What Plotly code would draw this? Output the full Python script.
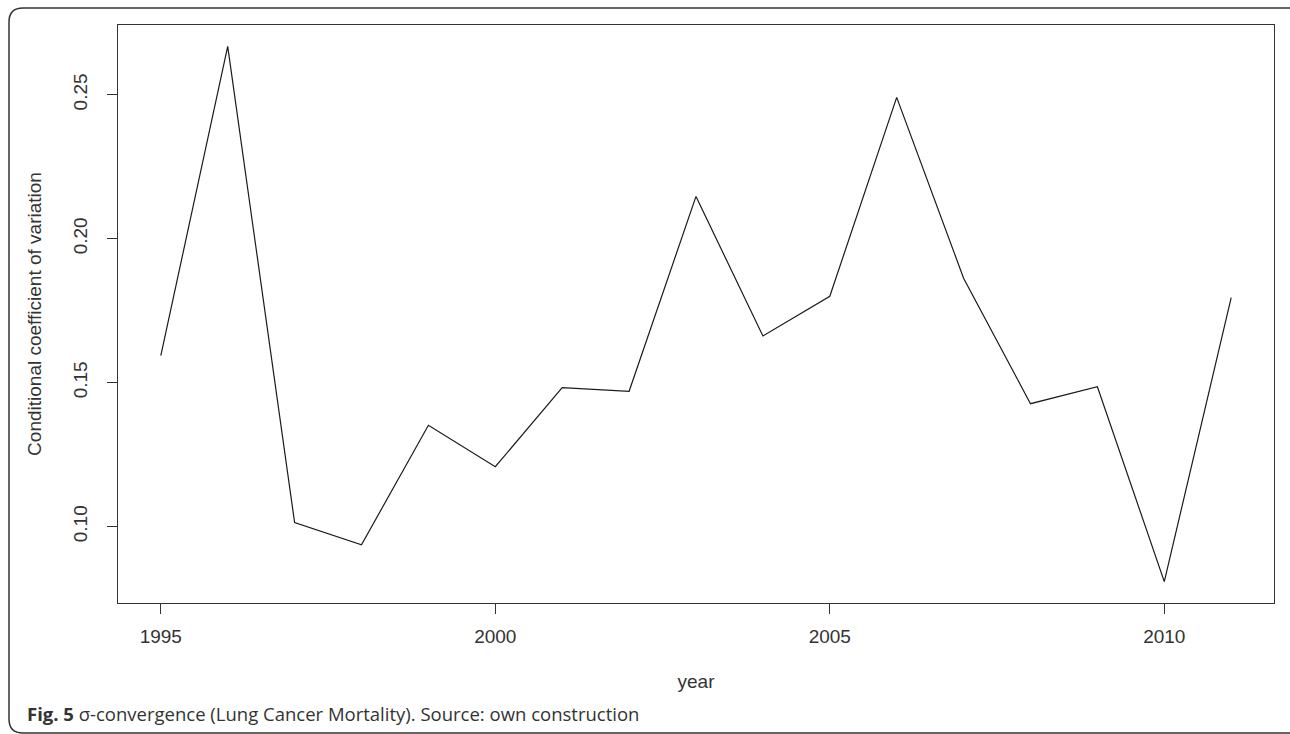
import plotly.graph_objects as go

years = [1995, 1996, 1997, 1998, 1999, 2000, 2001, 2002, 2003, 2004, 2005, 2006, 2007, 2008, 2009, 2010, 2011]
ccv = [0.1594, 0.2668, 0.1014, 0.0937, 0.1352, 0.1208, 0.1483, 0.1470, 0.2147, 0.1662, 0.1800, 0.2491, 0.1863, 0.1427, 0.1486, 0.0809, 0.1795]
x_ticks = [1995, 2000, 2005, 2010]
y_ticks = [0.10, 0.15, 0.20, 0.25]
y_tick_labels = ["0.10", "0.15", "0.20", "0.25"]

W, H = 1290, 734
L, R, T, B = 118, 1274, 25, 603

def pad(lo, hi):
    d = (hi - lo) * 0.04
    return [lo - d, hi + d]

fig = go.Figure()
fig.add_trace(go.Scatter(x=years, y=ccv, mode="lines",
                         line=dict(color="#1a1a1a", width=1.2),
                         showlegend=False, hoverinfo="skip"))

axis_font = dict(family="Liberation Sans, Arial", size=19, color="#333333")

fig.update_layout(
    width=W, height=H,
    margin=dict(l=L, r=W - R, t=T, b=H - B, pad=0),
    paper_bgcolor="white", plot_bgcolor="white",
    font=axis_font,
    xaxis=dict(range=pad(min(years), max(years)), tickvals=x_ticks,
               ticks="outside", ticklen=10, tickwidth=1, tickcolor="#333333",
               ticklabelstandoff=6,
               showgrid=False, zeroline=False, showline=True, mirror=True,
               linecolor="#333333", linewidth=1.2, tickfont=axis_font,
               title=dict(text="year", font=axis_font, standoff=28)),
    yaxis=dict(range=pad(min(ccv), max(ccv)), tickvals=y_ticks, ticktext=y_tick_labels,
               tickangle=-90,
               ticks="outside", ticklen=10, tickwidth=1, tickcolor="#333333",
               ticklabelstandoff=12,
               showgrid=False, zeroline=False, showline=True, mirror=True,
               linecolor="#333333", linewidth=1.2, tickfont=axis_font,
               title=dict(text="Conditional coefficient of variation", font=axis_font, standoff=23)),
)

def px(x):
    return (x - L) / (R - L)

def py(y):
    return (B - y) / (B - T)

# rounded outer frame (right side runs off the image)
x0, y0, x1, y1, r = 9, 8, 1310, 733, 14
path = (f"M {px(x0)},{py(y1 - r)} L {px(x0)},{py(y0 + r)} "
        f"Q {px(x0)},{py(y0)} {px(x0 + r)},{py(y0)} L {px(x1 - r)},{py(y0)} "
        f"Q {px(x1)},{py(y0)} {px(x1)},{py(y0 + r)} L {px(x1)},{py(y1 - r)} "
        f"Q {px(x1)},{py(y1)} {px(x1 - r)},{py(y1)} L {px(x0 + r)},{py(y1)} "
        f"Q {px(x0)},{py(y1)} {px(x0)},{py(y1 - r)} Z")
fig.add_shape(type="path", path=path, xref="paper", yref="paper",
              line=dict(color="#333333", width=1.5), layer="below")

fig.add_annotation(xref="paper", yref="paper", x=px(25), y=py(713),
                   xanchor="left", yanchor="middle", showarrow=False,
                   text="<b>Fig. 5</b> σ-convergence (Lung Cancer Mortality). Source: own construction",
                   font=dict(family="Open Sans", size=18.5, color="#333333"))

fig.write_html("out.html", config={"displayModeBar": False},
               post_script="document.body.style.margin='0';document.body.style.overflow='hidden';")
